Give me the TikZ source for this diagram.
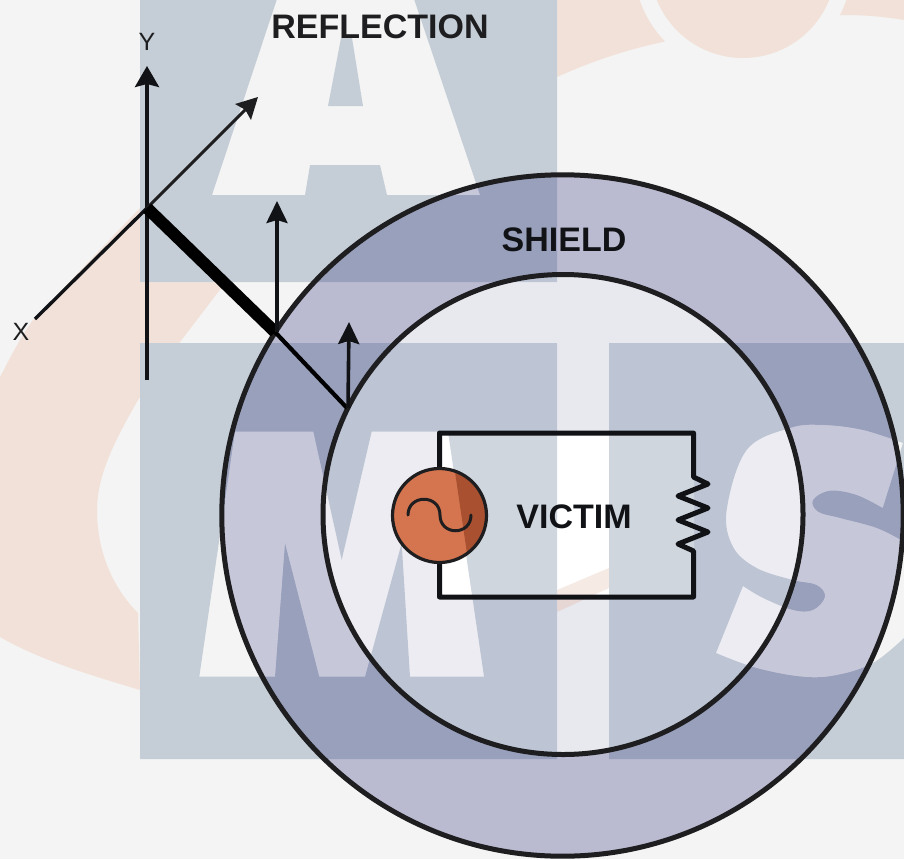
\documentclass[tikz,border=0pt]{standalone}
\usepackage{fontspec}
\setmainfont{Liberation Sans}
\usetikzlibrary{arrows.meta}
\definecolor{bgc}{HTML}{F4F4F4}
\definecolor{peach}{HTML}{F2E1D8}
\definecolor{slate}{HTML}{C5CED6}
\definecolor{slatelit}{HTML}{CFD6DE}
\definecolor{ringc}{RGB}{53,54,130}
\definecolor{innerc}{RGB}{86,86,186}
\definecolor{ink}{HTML}{101216}
\definecolor{ringink}{HTML}{1E1E20}
\definecolor{srcA}{HTML}{D4754F}
\definecolor{srcB}{HTML}{A8502F}
\def\lettershape{
  (212,195) -- (278,-4) -- (413,-4) -- (480,195) -- (387,195) -- (380,165) -- (310,165) -- (305,195) -- cycle
  (328,106) -- (341,38) -- (352,38) -- (363,106) -- cycle
  (199.3,676.7) -- (235,431.7) -- (313.3,431.7) -- (341.7,560) -- (371.7,431.7) -- (448,431.7) -- (484,676.7) -- (410,676.7) -- (401.7,543) -- (365,676.7) -- (319.3,676.7) -- (285,543) -- (275,676.7) -- cycle
  (903,443) -- (882.7,508)
  -- plot[smooth,tension=.6] coordinates {(882.7,508) (856.7,495) (830,490.7) (813,500) (818,511.7) (840,518) (876.7,528) (904,541.7)}
  -- (904,638)
  -- plot[smooth,tension=.6] coordinates {(904,638) (873,663) (836.7,675) (803,676.7) (756.7,668) (716,653)}
  -- (743,586)
  -- plot[smooth,tension=.6] coordinates {(743,586) (763,598) (793,610) (813,610) (825,596.7) (816.7,585) (793,580) (756.7,568) (733,546.7) (726.7,510) (746.7,450) (790,428) (823,425) (863,430) (903,443)}
  -- cycle
}
\def\rectshape{(140,-4) rectangle (557,282) (140,343) rectangle (557,759) (609,343) rectangle (908,759)}
\def\stripshape{(557,590) -- (609,568) -- (609,588) -- (557,612) -- cycle}
\tikzset{
  label text/.style={font=\fontsize{34}{40}\selectfont\bfseries, text=ink, inner sep=0pt},
  axis text/.style={font=\fontsize{25}{30}\selectfont, text=ringink, inner sep=0pt},
  ring line/.style={draw=ringink, line width=5pt},
  wire/.style={draw=ink, line width=5pt, line join=round},
  tipped/.style={draw=ink, line width=3.6pt, -{Stealth[length=21pt,width=24pt,inset=3pt]}},
  small tipped/.style={draw=ink, line width=3.6pt, -{Stealth[length=22pt,width=21pt,inset=3pt]}},
  thinline/.style={draw=ink, line width=3.4pt},
}
\begin{document}
\begin{tikzpicture}[x=1pt,y=-1pt]
\useasboundingbox (0,0) rectangle (904,859);
\clip (0,0) rectangle (904,859);
% background
\fill[bgc] (0,0) rectangle (904,859);
% swoosh
\fill[peach] (0,377) .. controls (10,358) and (20,338) .. (33,320) -- (140,208) -- (140,-4) -- (904,-4) -- (904,20)
  .. controls (880,16) and (860,15) .. (843,15)
  .. controls (780,15) and (720,24) .. (663,42)
  .. controls (625,50) and (590,62) .. (557,77) -- (225,283) -- (180,342) -- (138,400)
  .. controls (115,440) and (97,475) .. (97,510)
  .. controls (97,555) and (115,590) .. (138,613)
  -- (140,690) .. controls (90,675) and (40,660) .. (0,637) -- cycle;
\fill[bgc] (743,-35) circle[radius=109];
\fill[peach] (743,-35) circle[radius=93];
\fill[peach] \stripshape;
% watermark
\fill[bgc] \rectshape;
\fill[slate,even odd rule] \rectshape \lettershape;
% shield
\fill[ringc,fill opacity=.3,even odd rule] (562.5,515.5) circle[radius=340.7] (563,514.5) circle[radius=240];
\fill[innerc,fill opacity=.07] (563,514.5) circle[radius=240];
\begin{scope}
  \clip (562.5,515.5) circle[radius=340.7];
  \fill[white,fill opacity=.2,even odd rule] \lettershape;
\end{scope}
% circuit interior
\begin{scope}
  \clip (439,433) rectangle (694,597);
  \fill[white] (439,433) rectangle (694,597);
  \fill[peach!70!white] \stripshape;
  \fill[slatelit,even odd rule] \rectshape \lettershape;
\end{scope}
\draw[ring line] (562.5,515.5) circle[radius=340.7];
\draw[ring line] (563,514.5) circle[radius=240];
% circuit
\coordinate (TL) at (439.5,433);
\coordinate (TR) at (693.5,433);
\coordinate (BL) at (439.5,597);
\coordinate (BR) at (693.5,597);
\draw[wire] (693.5,477) -- (TR) -- (TL) -- (BL) -- (BR) -- (693.5,551) -- (678,544) -- (708,532) -- (678,520) -- (708,508) -- (678,496) -- (708,484) -- cycle;
\node[circle, minimum size=94pt, inner sep=0pt, fill=srcA] (src) at (439.5,515.5) {};
\begin{scope}
  \clip (src.center) circle[radius=47];
  \fill[srcB] (454,465) -- (468,560) -- (500,560) -- (500,465) -- cycle;
\end{scope}
\draw[draw=ringink, line width=3.2pt] (src.center) circle[radius=47];
\draw[draw=ringink, line width=3pt, line cap=round] (408,515) .. controls (408,494) and (440,494) .. (440,515) .. controls (440,536) and (471,536) .. (471,515);
% axes
\coordinate (O) at (147,208);
\coordinate (J) at (275,332);
\coordinate (K) at (347,408);
\coordinate (Ybot) at (147,380);
\coordinate (Ytop) at (147,66);
\coordinate (Xend) at (35,319);
\coordinate (Dtop) at (258,97);
\coordinate (A2) at (277,201);
\coordinate (A3) at (349,322);
\draw[tipped] (Ybot) -- (Ytop);
\draw[thinline] (Xend) -- (O);
\draw[draw=ringink, line width=3pt, -{Stealth[length=21pt,width=22pt,inset=3pt]}] (O) -- (Dtop);
\draw[draw=black, line width=12pt] (O) -- (J);
\draw[draw=black, line width=4.2pt] (J) -- (K);
\draw[small tipped] (277,332) -- (A2);
\draw[small tipped] (348,408) -- (A3);
% labels
\node[label text, text=ringink] (refl) at (380,27) {REFLECTION};
\node[label text] (shield) at (564,240) {SHIELD};
\node[label text] (victim) at (574,517) {VICTIM};
\node[axis text] (xlab) at (21,332) {X};
\node[axis text] (ylab) at (147,42) {Y};
\end{tikzpicture}
\end{document}
